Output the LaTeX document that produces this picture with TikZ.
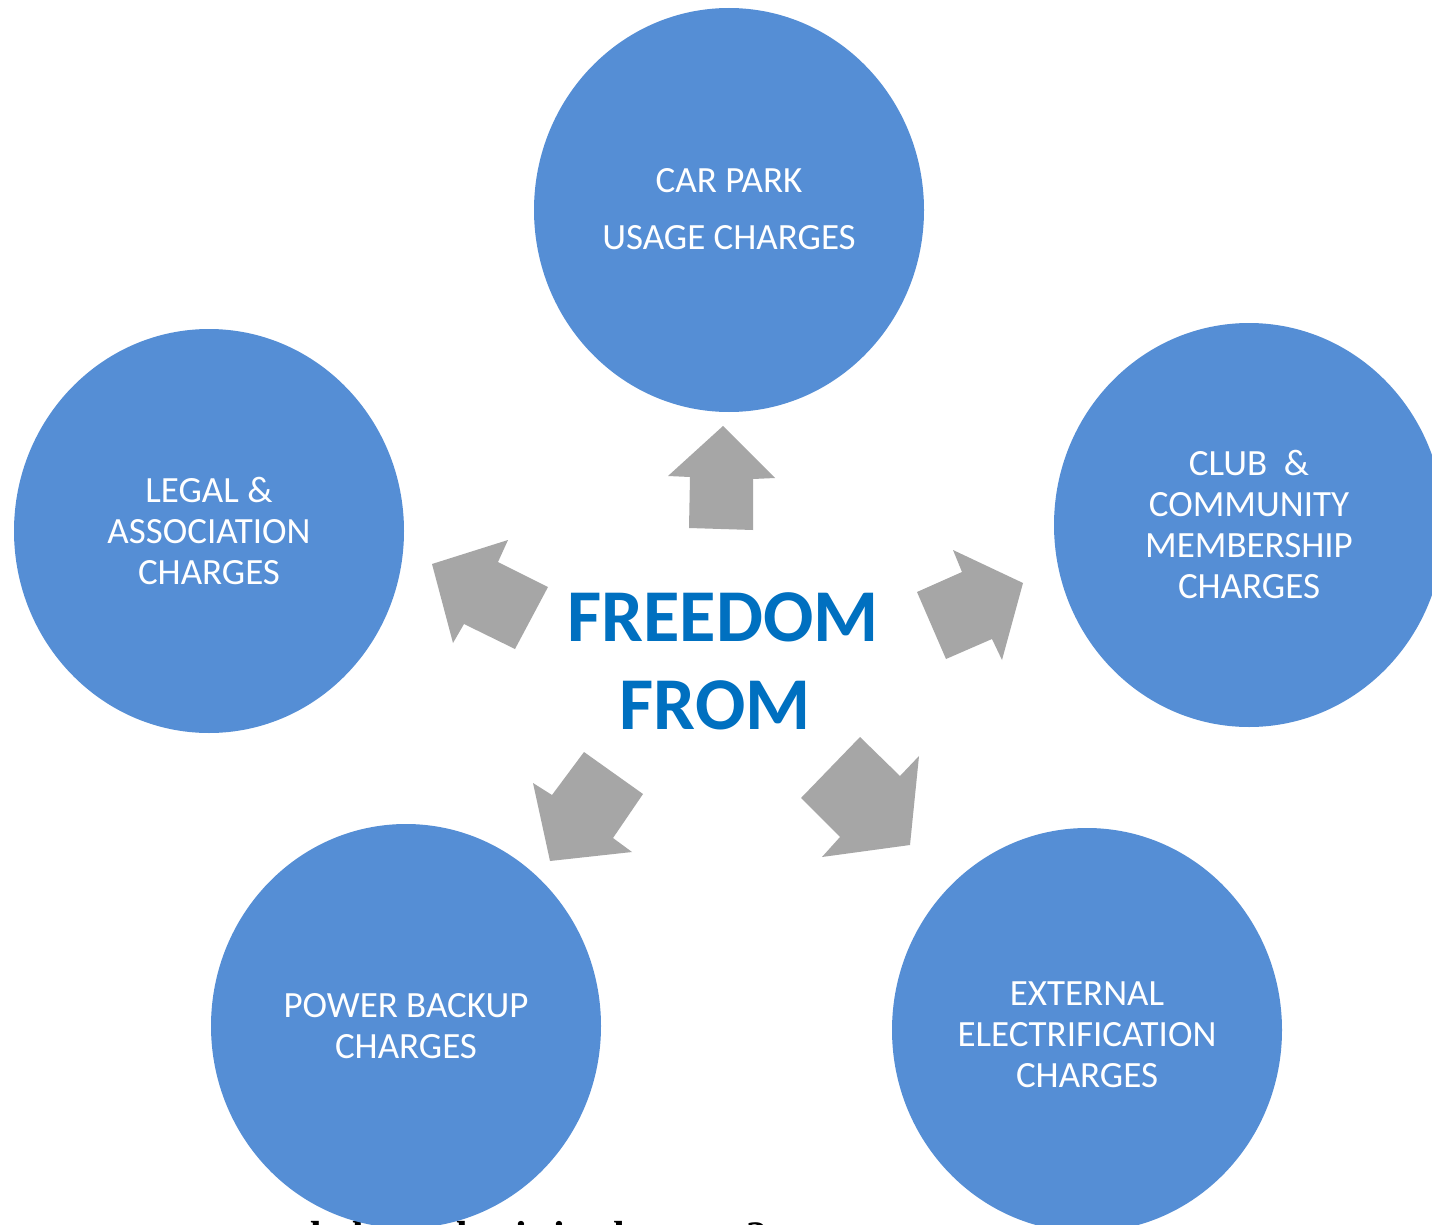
\documentclass[tikz,border=0pt]{standalone}
\usepackage{fontspec}
\setmainfont{Carlito}
\newfontfamily\serifbold{Liberation Serif}
\definecolor{circblue}{RGB}{85,142,213}
\definecolor{arrgray}{RGB}{166,166,166}
\definecolor{titleblue}{RGB}{0,112,192}
\begin{document}
\begin{tikzpicture}[x=1pt,y=-1pt,
  bubble/.style={draw=none,fill=circblue},
  btext/.style={text=white,font=\fontsize{37}{41}\selectfont,align=center},
  garrow/.style={fill=arrgray,draw=none},
  title/.style={text=titleblue,font=\fontsize{74.5}{88}\selectfont\bfseries}]
\useasboundingbox (0,0) rectangle (1432,1225);
\clip (0,0) rectangle (1432,1225);
\fill[white] (0,0) rectangle (1432,1225);
% partially hidden caption at the bottom
\node[anchor=base west,font=\serifbold\fontsize{42}{48}\selectfont\bfseries,inner sep=0] (cap) at (298,1250) {ded builder is in the  cost ?};
% circles
\fill[bubble] (729,210) ellipse [x radius=195,y radius=202];
\fill[bubble] (209,531) ellipse [x radius=195,y radius=202];
\fill[bubble] (1249,525) ellipse [x radius=195,y radius=202];
\fill[bubble] (406,1026) ellipse [x radius=195,y radius=202];
\fill[bubble] (1087,1030) ellipse [x radius=195,y radius=202];
\node[btext] (t1a) at (729,181) {CAR PARK};
\node[btext] (t1b) at (729,238) {USAGE CHARGES};
\node[btext] (t2) at (209,531) {LEGAL \&\\ASSOCIATION\\CHARGES};
\node[btext] (t3) at (1249,524) {CLUB\ \ \&\\COMMUNITY\\MEMBERSHIP\\CHARGES};
\node[btext] (t4) at (406,1026) {POWER BACKUP\\CHARGES};
\node[btext] (t5) at (1087,1035) {EXTERNAL\\ELECTRIFICATION\\CHARGES};
% centre text
\node[title] (f1) at (723,617) {FREEDOM};
\node[title] (f2) at (715,705) {FROM};
% arrows
\fill[garrow] (723,426) -- (775,478) -- (753,479) -- (753,530) -- (689,528) -- (690,477) -- (668,476) -- cycle;
\fill[garrow] (432,564) -- (508,540) -- (498,562) -- (548,587) -- (515,649) -- (464,624) -- (453,643) -- cycle;
\fill[garrow] (1023,583) -- (953,550) -- (962,572) -- (917,592) -- (946,659) -- (992,639) -- (1002,660) -- cycle;
\fill[garrow] (550,861) -- (533,783) -- (552,795) -- (584,752) -- (643,794) -- (613,838) -- (632,852) -- cycle;
\fill[garrow] (910,845) -- (919,756) -- (900,776) -- (860,737) -- (801,798) -- (840,837) -- (822,857) -- cycle;
\end{tikzpicture}
\end{document}
